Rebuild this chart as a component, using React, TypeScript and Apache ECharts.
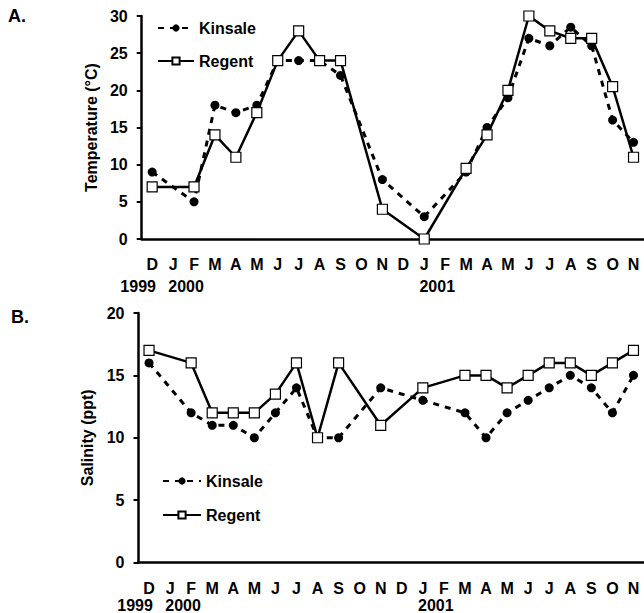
import React, { useEffect, useRef } from "react";
import * as echarts from "echarts";

const months = ["D", "J", "F", "M", "A", "M", "J", "J", "A", "S", "O", "N", "D", "J", "F", "M", "A", "M", "J", "J", "A", "S", "O", "N"];
const yearLabels: Record<number, string> = { 0: "1999", 1: "2000", 13: "2001" };

const tempKinsale = [9, null, 5, 18, 17, 18, 24, 24, 24, 22, null, 8, null, 3, null, 9, 15, 19, 27, 26, 28.5, 26, 16, 13];
const tempRegent = [7, null, 7, 14, 11, 17, 24, 28, 24, 24, null, 4, null, 0, null, 9.5, 14, 20, 30, 28, 27, 27, 20.5, 11];
const salKinsale = [16, null, 12, 11, 11, 10, 12, 14, 10, 10, null, 14, null, 13, null, 12, 10, 12, 13, 14, 15, 14, 12, 15];
const salRegent = [17, null, 16, 12, 12, 12, 13.5, 16, 10, 16, null, 11, null, 14, null, 15, 15, 14, 15, 16, 16, 15, 16, 17];

const FONT = "'Liberation Sans', Arial, Helvetica, sans-serif";

function xAxisFor(gridIndex: number, margin: number, lineHeight: number) {
  return {
    type: "category",
    gridIndex,
    data: months,
    boundaryGap: true,
    axisLine: { lineStyle: { color: "#000", width: 2.5 } },
    axisTick: { interval: 0, length: 5, lineStyle: { color: "#000", width: 2 } },
    axisLabel: {
      interval: 0,
      margin,
      color: "#000",
      fontFamily: FONT,
      formatter: (value: string, index: number) => {
        const y = yearLabels[index];
        if (!y) return `{m|${value}}`;
        return `{m|${value}}\n{${index === 0 ? "yl" : "yr"}|${y}}`;
      },
      rich: {
        m: { fontSize: 16, fontWeight: "bold", fontFamily: FONT, color: "#000", lineHeight },
        yl: { fontSize: 16, fontWeight: "bold", fontFamily: FONT, color: "#000", lineHeight, padding: [0, 28, 0, 0] },
        yr: { fontSize: 16, fontWeight: "bold", fontFamily: FONT, color: "#000", lineHeight, padding: [0, 0, 0, 26] },
      },
    },
    splitLine: { show: false },
  };
}

function yAxisFor(gridIndex: number, max: number, name: string, nameGap: number) {
  return {
    type: "value",
    gridIndex,
    min: 0,
    max,
    interval: 5,
    name,
    nameLocation: "middle",
    nameRotate: 90,
    nameGap,
    nameTextStyle: { fontSize: 16, fontWeight: "bold", fontFamily: FONT, color: "#000" },
    axisLine: { show: true, lineStyle: { color: "#000", width: 2.5 } },
    axisTick: { show: true, length: 5, lineStyle: { color: "#000", width: 2 } },
    axisLabel: { margin: 14, fontSize: 16, fontWeight: "bold", fontFamily: FONT, color: "#000" },
    splitLine: { show: false },
  };
}

function kinsale(data: (number | null)[], idx: number) {
  return {
    name: "Kinsale",
    type: "line",
    xAxisIndex: idx,
    yAxisIndex: idx,
    data,
    connectNulls: true,
    symbol: "circle",
    symbolSize: 9,
    itemStyle: { color: "#000" },
    lineStyle: { color: "#000", width: 3, type: [6, 6] },
    z: 2,
  };
}

function regent(data: (number | null)[], idx: number) {
  return {
    name: "Regent",
    type: "line",
    xAxisIndex: idx,
    yAxisIndex: idx,
    data,
    connectNulls: true,
    symbol: "rect",
    symbolSize: 10,
    itemStyle: { color: "#fff", borderColor: "#000", borderWidth: 1.2 },
    lineStyle: { color: "#000", width: 2.5, type: "solid" },
    z: 3,
  };
}

const legendText = { fontSize: 16, fontWeight: "bold", fontFamily: FONT, color: "#000" };

export default function App() {
  const ref = useRef<HTMLDivElement>(null);
  useEffect(() => {
    if (!ref.current) return;
    const chart = echarts.init(ref.current, null, { renderer: "svg" });
    chart.setOption({
      animation: false,
      backgroundColor: "#fff",
      textStyle: { fontFamily: FONT },
      grid: [
        { left: 141.7, top: 16, width: 502.5, height: 223 },
        { left: 138.5, top: 313, width: 509, height: 250 },
      ],
      legend: [
        {
          data: ["Kinsale", "Regent"],
          orient: "vertical",
          left: 152,
          top: 15,
          itemWidth: 36,
          itemHeight: 9,
          itemGap: 17,
          textStyle: legendText,
          selectedMode: false,
        },
        {
          data: ["Kinsale", "Regent"],
          orient: "vertical",
          left: 157,
          top: 468,
          itemWidth: 38,
          itemHeight: 9,
          itemGap: 18,
          textStyle: legendText,
          selectedMode: false,
        },
      ],
      xAxis: [xAxisFor(0, 14, 22), xAxisFor(1, 17, 17)],
      yAxis: [yAxisFor(0, 30, "Temperature (°C)", 42), yAxisFor(1, 20, "Salinity (ppt)", 40)],
      series: [
        kinsale(tempKinsale, 0),
        regent(tempRegent, 0),
        kinsale(salKinsale, 1),
        regent(salRegent, 1),
      ],
      graphic: [
        { type: "text", left: 8, top: 7, style: { text: "A.", fontSize: 18, fontWeight: "bold", fontFamily: FONT, fill: "#000" } },
        { type: "text", left: 11, top: 308, style: { text: "B.", fontSize: 18, fontWeight: "bold", fontFamily: FONT, fill: "#000" } },
      ],
    });
    return () => chart.dispose();
  }, []);
  return (
    <div
      ref={ref}
      style={{ position: "fixed", left: 0, top: 0, width: 644, height: 613, background: "#fff" }}
    />
  );
}
